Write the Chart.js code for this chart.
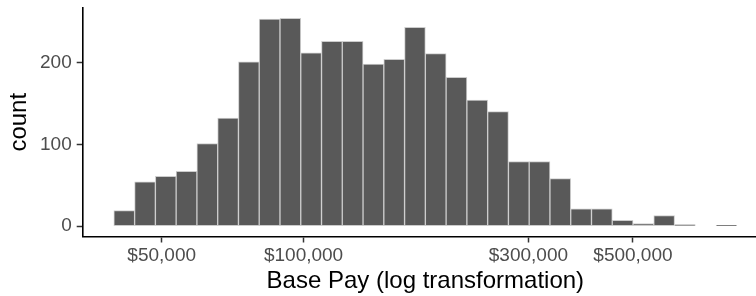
<!DOCTYPE html>
<html>
<head>
<meta charset="utf-8">
<script src="https://cdn.jsdelivr.net/npm/chart.js@4"></script>
<style>
  html, body { margin: 0; padding: 0; background: #fff; }
  /* panel runs a little past the right edge, like the cropped ggplot */
  #wrap { width: 756px; height: 296px; overflow: hidden; }
</style>
</head>
<body>
<div id="wrap"><canvas id="hist" width="768" height="296"></canvas></div>
<script>
// histogram of base pay, 30 bins on log10 scale
const binStartLog = 4.5974;   // log10 of the left edge of the first bin
const binWidthLog = 0.04407;  // bin width in log10 units
const counts = [19, 54, 61, 67, 101, 132, 201, 253, 254, 212,
                226, 226, 198, 204, 243, 211, 182, 154, 140, 79,
                79, 58, 21, 21, 7, 3, 13, 2, 0, 1];
const xTickValues = [50000, 100000, 300000, 500000];
const yTickValues = [0, 100, 200];

const points = counts.map((c, i) => ({
  x: Math.pow(10, binStartLog + (i + 0.5) * binWidthLog),
  y: c,
}));

const tickFont = { family: "'Liberation Sans', Helvetica, Arial, sans-serif", size: 19 };
const titleFont = { family: "'Liberation Sans', Helvetica, Arial, sans-serif", size: 24 };

new Chart(document.getElementById("hist"), {
  type: "bar",
  data: {
    datasets: [
      {
        data: points,
        backgroundColor: "#595959",
        borderColor: "#cccccc",
        borderWidth: 1,
        borderSkipped: false,
        barPercentage: 1,
        categoryPercentage: 1,
      },
    ],
  },
  options: {
    responsive: false,
    animation: false,
    devicePixelRatio: 1,
    layout: { padding: { top: 8, right: 0, left: 0, bottom: 0 } },
    plugins: { legend: { display: false }, tooltip: { enabled: false } },
    scales: {
      x: {
        type: "logarithmic",
        min: Math.pow(10, 4.5313),
        max: Math.pow(10, 5.9856),
        offset: false,
        grid: { display: true, drawOnChartArea: false, offset: false, tickLength: 6, tickColor: "#333333", tickWidth: 1.5 },
        border: { display: true, color: "#000000", width: 1.6 },
        afterBuildTicks: (scale) => {
          scale.ticks = xTickValues.map((v) => ({ value: v }));
        },
        afterFit: (scale) => {
          scale.height = 59.5;
          scale.paddingLeft = 0;
          scale.paddingRight = 0;
        },
        ticks: {
          autoSkip: false,
          maxRotation: 0,
          padding: 2,
          color: "#4d4d4d",
          font: tickFont,
          callback: (v) => "$" + Number(v).toLocaleString("en-US"),
        },
        title: { display: true, text: "Base Pay (log transformation)", color: "#000000", font: titleFont, padding: 0 },
      },
      y: {
        min: -12.7,
        max: 266.7,
        grid: { display: true, drawOnChartArea: false, tickLength: 6, tickColor: "#333333", tickWidth: 1.5 },
        border: { display: true, color: "#000000", width: 1.6 },
        afterBuildTicks: (scale) => {
          scale.ticks = yTickValues.map((v) => ({ value: v }));
        },
        afterFit: (scale) => {
          scale.width = 82.7;
          scale.paddingTop = 0;
          scale.paddingBottom = 0;
        },
        ticks: { padding: 5, color: "#4d4d4d", font: tickFont },
        title: { display: true, text: "count", color: "#000000", font: titleFont, padding: { top: 5, bottom: 0 } },
      },
    },
  },
});
</script>
</body>
</html>
